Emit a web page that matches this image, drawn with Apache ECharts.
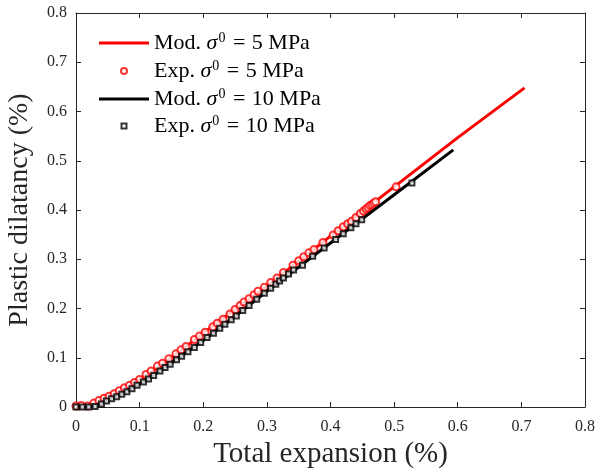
<!DOCTYPE html>
<html>
<head>
<meta charset="utf-8">
<script src="https://cdn.jsdelivr.net/npm/echarts@6/dist/echarts.min.js"></script>
<style>
  html, body { margin: 0; padding: 0; background: #fff; }
  #chart { width: 598px; height: 470px; }
</style>
</head>
<body>
<div id="chart"></div>
<script>
// Model curves: total expansion (%) vs plastic dilatancy (%)
const modX5 = [0, 0.02, 0.04, 0.06, 0.08, 0.10, 0.12, 0.15, 0.20, 0.25, 0.30, 0.35, 0.40, 0.50, 0.60, 0.705];
const modY5 = [0, 0.002, 0.013, 0.026, 0.040, 0.055, 0.072, 0.100, 0.150, 0.198, 0.246, 0.296, 0.347, 0.447, 0.547, 0.648];
const modX10 = [0, 0.025, 0.04, 0.06, 0.08, 0.10, 0.12, 0.15, 0.20, 0.25, 0.30, 0.35, 0.40, 0.45, 0.50, 0.593];
const modY10 = [0, 0, 0.007, 0.019, 0.032, 0.047, 0.063, 0.090, 0.135, 0.184, 0.235, 0.284, 0.333, 0.382, 0.431, 0.522];

// Experimental measurements
const expX5 = [0.000, 0.008, 0.018, 0.028, 0.036, 0.044, 0.052, 0.060, 0.068, 0.076, 0.084, 0.092, 0.100, 0.110, 0.118,
  0.128, 0.136, 0.146, 0.157, 0.165, 0.173, 0.186, 0.194, 0.203, 0.215, 0.222, 0.231, 0.242, 0.250, 0.258, 0.264,
  0.272, 0.280, 0.286, 0.296, 0.306, 0.316, 0.326, 0.341, 0.350, 0.358, 0.366, 0.374, 0.388, 0.404, 0.412, 0.420,
  0.427, 0.433, 0.440, 0.447, 0.452, 0.456, 0.459, 0.462, 0.465, 0.468, 0.471, 0.503];
const expY5 = [0.002, 0.003, 0.002, 0.008, 0.013, 0.018, 0.022, 0.027, 0.033, 0.039, 0.044, 0.050, 0.056, 0.066, 0.073,
  0.083, 0.089, 0.098, 0.108, 0.116, 0.123, 0.137, 0.144, 0.152, 0.163, 0.170, 0.178, 0.189, 0.198, 0.206, 0.213,
  0.220, 0.228, 0.235, 0.243, 0.253, 0.262, 0.273, 0.288, 0.297, 0.305, 0.313, 0.320, 0.334, 0.349, 0.358, 0.366,
  0.372, 0.377, 0.385, 0.393, 0.398, 0.402, 0.405, 0.409, 0.411, 0.414, 0.417, 0.447];
const expX10 = [0.000, 0.010, 0.020, 0.030, 0.040, 0.048, 0.056, 0.064, 0.072, 0.080, 0.088, 0.096, 0.106, 0.114, 0.122,
  0.132, 0.140, 0.148, 0.158, 0.166, 0.176, 0.186, 0.196, 0.206, 0.216, 0.226, 0.234, 0.244, 0.252, 0.262, 0.272,
  0.284, 0.296, 0.306, 0.314, 0.320, 0.326, 0.334, 0.342, 0.356, 0.372, 0.390, 0.408, 0.420, 0.432, 0.440, 0.449, 0.528];
const expY10 = [0.000, 0.000, 0.000, 0.001, 0.006, 0.012, 0.017, 0.021, 0.026, 0.031, 0.037, 0.044, 0.051, 0.057, 0.064,
  0.073, 0.080, 0.087, 0.096, 0.103, 0.112, 0.121, 0.131, 0.141, 0.150, 0.160, 0.168, 0.177, 0.185, 0.196, 0.206,
  0.219, 0.231, 0.241, 0.249, 0.256, 0.262, 0.270, 0.278, 0.288, 0.306, 0.323, 0.340, 0.352, 0.364, 0.372, 0.380, 0.455];

const xTicks = ['0', '0.1', '0.2', '0.3', '0.4', '0.5', '0.6', '0.7', '0.8'];
const yTicks = ['0', '0.1', '0.2', '0.3', '0.4', '0.5', '0.6', '0.7', '0.8'];

const names = [
  'Mod. σ0 = 5 MPa',
  'Exp. σ0 = 5 MPa',
  'Mod. σ0 = 10 MPa',
  'Exp. σ0 = 10 MPa'
];

const zip = (xs, ys) => xs.map((x, i) => [x, ys[i]]);

const FONT = '"Liberation Serif", "DejaVu Serif", serif';
const INK = '#262626';
const LEG_SIZE = 22;

function legendText(padLeft) {
  return {
    fontFamily: FONT,
    fontSize: LEG_SIZE,
    color: '#000',
    padding: [0, 0, 0, padLeft],
    rich: {
      t: { fontFamily: FONT, fontSize: LEG_SIZE, color: '#000' },
      eq: { fontFamily: FONT, fontSize: LEG_SIZE, color: '#000', padding: [0, 1, 0, 1] },
      s: { fontFamily: FONT, fontSize: LEG_SIZE, fontStyle: 'italic', color: '#000' },
      sup: { fontFamily: FONT, fontSize: 14, color: '#000', verticalAlign: 'top', padding: [0, 1, 10, 1] }
    }
  };
}

function legendLabel(name) {
  // "Mod. σ0 = 5 MPa" -> prefix, italic sigma, superscript zero, "=", rest
  const m = name.match(/^(.*?)σ0 = (.*)$/);
  return '{t|' + m[1] + '}{s|σ}{sup|0}{eq| = }{t|' + m[2] + '}';
}

function lineLegend(name, top) {
  return {
    data: [name],
    left: 99,
    top: top,
    icon: 'rect',
    itemWidth: 50,
    itemHeight: 3,
    selectedMode: false,
    formatter: legendLabel,
    textStyle: legendText(0),
    padding: 0
  };
}

function markLegend(name, top, size) {
  return {
    data: [name],
    left: 123 - size / 2,
    top: top,
    itemWidth: size,
    itemHeight: size,
    selectedMode: false,
    formatter: legendLabel,
    textStyle: legendText(148 - (123 + size / 2)),
    padding: 0
  };
}

const xTickFmt = v => xTicks[Math.round(v * 10)];
const yTickFmt = v => yTicks[Math.round(v * 10)];

const axisCommon = {
  type: 'value',
  min: 0,
  max: 0.8,
  interval: 0.1,
  splitLine: { show: false },
  axisLine: { show: true, onZero: false, lineStyle: { color: INK, width: 1 } },
  axisTick: { show: true, inside: true, length: 5, lineStyle: { color: INK, width: 1 } }
};

const chart = echarts.init(document.getElementById('chart'), null, { renderer: 'canvas' });

chart.setOption({
  animation: false,
  backgroundColor: '#fff',
  grid: { left: 76, right: 13, top: 13, bottom: 63, containLabel: false, outerBoundsMode: 'none' },
  legend: [
    lineLegend(names[0], 31),
    markLegend(names[1], 59, 6),
    lineLegend(names[2], 87),
    markLegend(names[3], 114, 5)
  ],
  xAxis: [
    Object.assign({}, axisCommon, {
      position: 'bottom',
      name: 'Total expansion (%)',
      nameLocation: 'middle',
      nameGap: 31,
      nameTextStyle: { fontFamily: FONT, fontSize: 29, color: INK },
      axisLabel: { formatter: xTickFmt, fontFamily: FONT, fontSize: 16, color: INK, margin: 12 }
    }),
    Object.assign({}, axisCommon, {
      position: 'top',
      axisLabel: { show: false }
    })
  ],
  yAxis: [
    Object.assign({}, axisCommon, {
      position: 'left',
      name: 'Plastic dilatancy (%)',
      nameLocation: 'middle',
      nameGap: 42,
      nameTextStyle: { fontFamily: FONT, fontSize: 28, color: INK },
      axisLabel: { formatter: yTickFmt, fontFamily: FONT, fontSize: 16, color: INK, margin: 9 }
    }),
    Object.assign({}, axisCommon, {
      position: 'right',
      axisLabel: { show: false }
    })
  ],
  series: [
    {
      name: names[0],
      type: 'line',
      data: zip(modX5, modY5),
      showSymbol: false,
      symbol: 'none',
      lineStyle: { color: '#ff0000', width: 3 },
      itemStyle: { color: '#ff0000' },
      z: 2
    },
    {
      name: names[1],
      type: 'scatter',
      data: zip(expX5, expY5),
      symbol: 'emptyCircle',
      symbolSize: 7,
      itemStyle: { color: '#ff0000', borderColor: '#ff0000', borderWidth: 1 },
      z: 3
    },
    {
      name: names[2],
      type: 'line',
      data: zip(modX10, modY10),
      showSymbol: false,
      symbol: 'none',
      lineStyle: { color: '#000000', width: 3 },
      itemStyle: { color: '#000000' },
      z: 4
    },
    {
      name: names[3],
      type: 'scatter',
      data: zip(expX10, expY10),
      symbol: 'emptyRect',
      symbolSize: 5,
      itemStyle: { color: '#000000', borderColor: '#000000', borderWidth: 1 },
      z: 5
    }
  ]
});
</script>
</body>
</html>
